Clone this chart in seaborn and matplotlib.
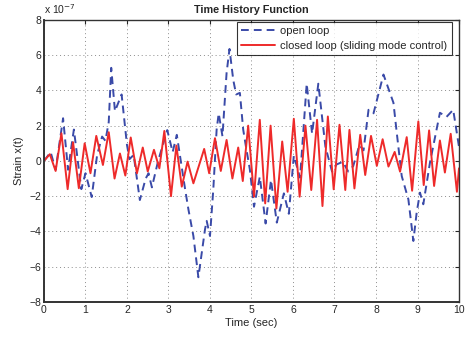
import matplotlib
matplotlib.use("Agg")
import matplotlib.pyplot as plt
import seaborn as sns
import pandas as pd

# open loop (dashed blue), values in units of 1e-7
open_t = [0.0, 0.16, 0.28, 0.46, 0.58, 0.72, 0.9, 1.0, 1.15, 1.28, 1.4, 1.48, 1.56, 1.62, 1.71, 1.87, 2.0, 2.06, 2.16, 2.31,
          2.45, 2.52, 2.6, 2.75, 2.97, 3.1, 3.2, 3.4, 3.48, 3.6, 3.72, 3.88, 3.92, 4.0, 4.08, 4.16, 4.21, 4.3, 4.4, 4.47,
          4.56, 4.63, 4.72, 4.8, 4.86, 4.96, 5.06, 5.2, 5.34, 5.47, 5.61, 5.78, 5.9, 6.02, 6.17, 6.33, 6.46, 6.61, 6.78,
          6.94, 7.05, 7.2, 7.33, 7.45, 7.6, 7.7, 7.82, 7.94, 8.18, 8.42, 8.5, 8.62, 8.78, 8.9, 8.98, 9.06, 9.14, 9.3,
          9.54, 9.7, 9.86, 10.0]
open_v = [0.0, 0.5, -0.5, 2.42, -0.5, 1.78, -1.6, -0.7, -2.05, 0.34, 1.38, 1.14, 2.2, 5.28, 2.82, 3.77, 0.9, 0.1, 0.34, -2.22,
          -1.0, -0.7, -1.5, 0.0, 1.75, 0.5, 1.48, -1.6, -2.75, -4.26, -6.6, -3.88, -3.4, -4.26, -1.6, 1.78, 2.7, 1.4, 5.0, 6.35,
          4.6, 3.77, 3.86, 1.78, 0.9, -0.48, -2.6, -0.9, -3.55, -1.08, -3.5, -1.84, -3.0, 0.3, -0.95, 4.38, 1.55, 4.38, 0.82,
          -0.6, -0.2, -0.05, -0.6, -0.3, 0.9, 0.6, 2.9, 2.7, 4.9, 3.3, 1.6, -0.86, -2.18, -4.54, -2.93, -1.8, -2.46, -0.1,
          2.73, 2.5, 2.9, 0.8]

# closed loop (solid red)
closed_t = [0.0, 0.14, 0.28, 0.42, 0.57, 0.7, 0.84, 0.98, 1.12, 1.26, 1.42, 1.56, 1.7, 1.83, 1.96, 2.09, 2.24, 2.38, 2.5,
            2.65, 2.78, 2.9, 3.06, 3.19, 3.32, 3.46, 3.6, 3.86, 3.98, 4.12, 4.26, 4.4, 4.54, 4.68, 4.79, 4.92, 5.06, 5.2,
            5.33, 5.46, 5.6, 5.74, 5.87, 6.02, 6.16, 6.3, 6.44, 6.58, 6.71, 6.84, 6.98, 7.12, 7.26, 7.36, 7.48, 7.62, 7.74,
            7.88, 8.02, 8.16, 8.3, 8.45, 8.58, 8.74, 8.87, 9.02, 9.15, 9.28, 9.4, 9.54, 9.66, 9.8, 9.95, 10.0]
closed_v = [0.0, 0.38, -0.57, 1.57, -1.6, 1.06, -1.55, 1.0, -0.7, 1.42, -0.23, 1.63, -1.0, 0.42, -0.83, 1.33, -0.7, 0.76, -0.6,
            0.63, -0.42, 1.7, -2.0, 0.87, -1.46, -0.04, -1.27, 0.68, -0.7, 1.29, -0.57, 1.19, -1.0, 0.76, -1.14, 2.0, -2.03, 2.33,
            -2.41, 2.0, -2.7, 1.1, -1.75, 2.39, -2.03, 2.0, -1.65, 2.33, -2.56, 2.52, -1.61, 2.05, -1.65, 1.76, -1.56, 1.48, -0.8,
            1.42, -0.28, 1.23, -0.32, 0.51, -0.61, 1.35, -1.69, 2.24, -1.37, 1.73, -1.42, 1.16, -0.66, 1.54, -1.75, -0.42]

x_ticks = list(range(0, 11))
y_ticks = [-8, -6, -4, -2, 0, 2, 4, 6, 8]

sns.set_style("white")
plt.rcParams['font.family'] = ['Liberation Sans', 'DejaVu Sans']

fig = plt.figure(figsize=(4.7, 3.37), dpi=100)
ax = fig.add_axes([0.0936, 0.104, 0.883, 0.837])

df_open = pd.DataFrame({"t": open_t, "v": open_v})
df_closed = pd.DataFrame({"t": closed_t, "v": closed_v})

sns.lineplot(data=df_open, x="t", y="v", ax=ax, color="#3a4aa8", linewidth=1.4,
             linestyle=(0, (4.0, 2.6)), label="open loop", dash_joinstyle="round")
sns.lineplot(data=df_closed, x="t", y="v", ax=ax, color="#ee2a2a", linewidth=1.4,
             label="closed loop (sliding mode control)", solid_joinstyle="round")

ax.set_xlim(0, 10)
ax.set_ylim(-8, 8)
ax.set_xticks(x_ticks)
ax.set_yticks(y_ticks)
ax.set_yticklabels([str(v).replace('-', '\u2212') for v in y_ticks])
ax.grid(True, linestyle=(0, (1, 3)), color="0.55", linewidth=0.7)
ax.tick_params(direction="in", length=3, labelsize=7.5, top=True, right=True, colors="0.15",
               pad=2)
for s in ax.spines.values():
    s.set_color("0.2")
    s.set_linewidth(1.0)
ax.spines["left"].set_linewidth(1.4)
ax.spines["bottom"].set_linewidth(1.4)

ax.set_xlabel("Time (sec)", fontsize=8, labelpad=2)
ax.set_ylabel("Strain x(t)", fontsize=8, labelpad=4)
ax.set_title("Time History Function", fontsize=7.8, fontweight="bold", pad=5)
ax.text(0.0, 1.012, "x 10$^{-7}$", transform=ax.transAxes, fontsize=7.5, ha="left", va="bottom")

leg = ax.legend(loc="upper right", bbox_to_anchor=(0.983, 0.994), fontsize=8, frameon=True,
                fancybox=False, handlelength=3.0, borderpad=0.4, labelspacing=0.45,
                handletextpad=0.5, borderaxespad=0.0)
leg.get_frame().set_edgecolor("black")
leg.get_frame().set_linewidth(0.8)

fig.savefig("out.png", dpi=100)
